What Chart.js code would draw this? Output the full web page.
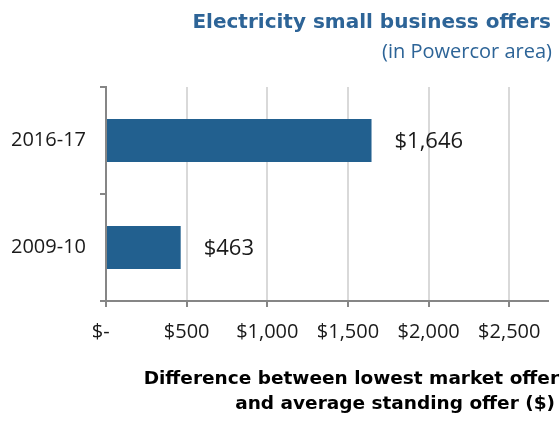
<!DOCTYPE html>
<html>
<head>
<meta charset="utf-8">
<script src="https://cdn.jsdelivr.net/npm/chart.js@4"></script>
<style>
  html, body { margin: 0; padding: 0; background: #fff; }
  #wrap { width: 560px; height: 421px; }
</style>
</head>
<body>
<div id="wrap"><canvas id="chart" width="560" height="421"></canvas></div>
<script>
const periods = ["2016-17", "2009-10"];
const savings = [1646, 463];
const xTicks = [0, 500, 1000, 1500, 2000, 2500];
const chartTitle = "Electricity small business offers";
const chartSubtitle = "(in Powercor area)";
const axisTitle = ["Difference between lowest market offer", "and average standing offer ($)"];

const BLUE = "#22608f";
const AXIS = "#868686";
const GRID = "#d9d9d9";
const FONT = "'Open Sans', sans-serif";
const BOLD = "Tahoma, 'DejaVu Sans', sans-serif";

function money(v) {
  if (v === 0) return "$-  ";
  return "$" + v.toLocaleString("en-US");
}

// titles, axis title and value labels
const textPlugin = {
  id: "texts",
  afterDraw(chart) {
    const ctx = chart.ctx;
    ctx.save();
    ctx.fillStyle = "#2d6497";
    ctx.textAlign = "right";
    ctx.textBaseline = "alphabetic";
    ctx.font = "bold 20px " + BOLD;
    ctx.fillText(chartTitle, 551, 28);
    ctx.font = "20px " + FONT;
    ctx.fillText(chartSubtitle, 552, 58);

    ctx.fillStyle = "#000";
    ctx.font = "bold 18.5px " + BOLD;
    ctx.fillText(axisTitle[0], 559, 384);
    ctx.fillText(axisTitle[1], 555, 409);

    ctx.fillStyle = "#1a1a1a";
    ctx.textAlign = "left";
    ctx.textBaseline = "middle";
    ctx.font = "22px " + FONT;
    const meta = chart.getDatasetMeta(0);
    meta.data.forEach((bar, i) => {
      ctx.fillText(money(savings[i]), bar.x + 23, bar.y + 1);
    });
    ctx.restore();
  }
};

new Chart(document.getElementById("chart"), {
  type: "bar",
  data: {
    labels: periods,
    datasets: [{
      data: savings,
      backgroundColor: BLUE,
      barPercentage: 0.4,
      categoryPercentage: 1
    }]
  },
  options: {
    indexAxis: "y",
    responsive: false,
    animation: false,
    layout: { padding: { top: 87, right: 12, left: 0, bottom: 0 } },
    plugins: { legend: { display: false }, tooltip: { enabled: false } },
    scales: {
      x: {
        min: 0,
        max: 2740,
        afterBuildTicks: s => { s.ticks = xTicks.map(v => ({ value: v })); },
        afterFit: s => { s.height = 120; },
        grid: { color: GRID, lineWidth: 2, tickColor: AXIS, tickLength: 6 },
        border: { color: AXIS, width: 2 },
        ticks: {
          color: "#1a1a1a",
          padding: 13,
          maxRotation: 0,
          font: { family: FONT, size: 20 },
          callback: v => money(v)
        }
      },
      y: {
        afterFit: s => { s.width = 106; },
        grid: { drawOnChartArea: false, offset: true, tickColor: AXIS, tickLength: 6, lineWidth: 2 },
        border: { color: AXIS, width: 2 },
        ticks: {
          color: "#1a1a1a",
          padding: 14,
          font: { family: FONT, size: 20 }
        }
      }
    }
  },
  plugins: [textPlugin]
});
</script>
</body>
</html>
